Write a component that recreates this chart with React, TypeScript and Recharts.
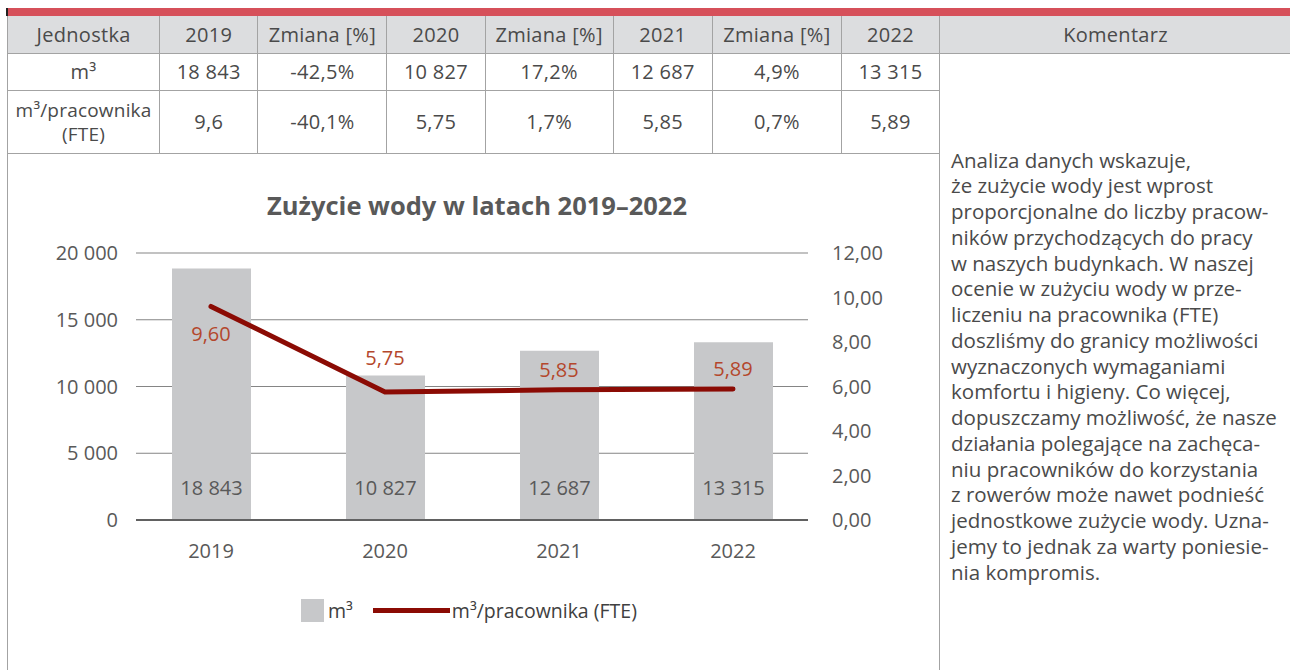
import React from "react";
import {
  Bar,
  CartesianGrid,
  ComposedChart,
  LabelList,
  Line,
  XAxis,
  YAxis,
} from "recharts";

const years = ["2019", "2020", "2021", "2022"];
const waterM3 = [18843, 10827, 12687, 13315];
const waterPerFte = [9.6, 5.75, 5.85, 5.89];
const changeM3 = [-42.5, 17.2, 4.9];
const changePerFte = [-40.1, 1.7, 0.7];
const leftTicks = [0, 5000, 10000, 15000, 20000];
const rightTicks = [0, 2, 4, 6, 8, 10, 12];
const seriesNames = ["m³", "m³/pracownika (FTE)"];
const chartTitle = "Zużycie wody w latach 2019–2022";
const commentLines = [
  "Analiza danych wskazuje,",
  "że zużycie wody jest wprost",
  "proporcjonalne do liczby pracow-",
  "ników przychodzących do pracy",
  "w naszych budynkach. W naszej",
  "ocenie w zużyciu wody w prze-",
  "liczeniu na pracownika (FTE)",
  "doszliśmy do granicy możliwości",
  "wyznaczonych wymaganiami",
  "komfortu i higieny. Co więcej,",
  "dopuszczamy możliwość, że nasze",
  "działania polegające na zachęca-",
  "niu pracowników do korzystania",
  "z rowerów może nawet podnieść",
  "jednostkowe zużycie wody. Uzna-",
  "jemy to jednak za warty poniesie-",
  "nia kompromis.",
];

const chartData = years.map((year, i) => ({
  year,
  m3: waterM3[i],
  fte: waterPerFte[i],
}));

const FONT = "'Open Sans', sans-serif";
const GRAY_TEXT = "#595959";
const BAR_FILL = "#c7c8ca";
const LINE_COLOR = "#8b0b04";
const LABEL_RED = "#b4472c";
const BORDER = "1px solid #a3a3a3";
const LABEL_DY = [27, -35, -20, -20];

const thousands = (n: number) => String(n).replace(/\B(?=(\d{3})+(?!\d))/g, " ");
const comma = (n: number, digits?: number) =>
  (digits === undefined ? String(n) : n.toFixed(digits)).replace(".", ",");
const pct = (n: number) => comma(n) + "%";

const colWidths = [152, 98, 129, 98, 128, 99, 129, 98, 351];

const cell: React.CSSProperties = {
  border: BORDER,
  textAlign: "center",
  padding: 0,
  color: "#4a4a4a",
};

function FteLabel(props: any) {
  const { x, y, value, index } = props;
  return (
    <text
      x={x}
      y={y + LABEL_DY[index]}
      textAnchor="middle"
      dominantBaseline="central"
      fill={LABEL_RED}
      fontSize={20}
    >
      {comma(Number(value), 2)}
    </text>
  );
}

function WaterChart() {
  return (
    <div style={{ position: "absolute", left: 8, top: 153, width: 932, height: 517, fontFamily: FONT }}>
      <div
        style={{
          position: "absolute",
          left: 0,
          width: 938,
          top: 35,
          lineHeight: "34px",
          textAlign: "center",
          fontWeight: 700,
          fontSize: 25.5,
          color: GRAY_TEXT,
        }}
      >
        {chartTitle}
      </div>
      <ComposedChart
        width={932}
        height={517}
        data={chartData}
        margin={{ top: 100, right: 52, bottom: 110, left: 18 }}
      >
        <CartesianGrid yAxisId="left" vertical={false} stroke="#858585" />
        <XAxis
          dataKey="year"
          padding={{ left: -12, right: -12 }}
          axisLine={{ stroke: "#404040", strokeWidth: 1.5 }}
          tickLine={false}
          tickMargin={18}
          height={40}
          tick={{ fill: GRAY_TEXT, fontSize: 20 }}
        />
        <YAxis
          yAxisId="left"
          domain={[0, 20000]}
          ticks={leftTicks}
          tickFormatter={thousands}
          axisLine={false}
          tickLine={false}
          tickMargin={12}
          width={110}
          tick={{ fill: GRAY_TEXT, fontSize: 20 }}
        />
        <YAxis
          yAxisId="right"
          orientation="right"
          domain={[0, 12]}
          ticks={rightTicks}
          tickFormatter={(v) => comma(v, 2)}
          axisLine={false}
          tickLine={false}
          tickMargin={18}
          width={80}
          tick={{ fill: GRAY_TEXT, fontSize: 20 }}
        />
        <Bar
          yAxisId="left"
          dataKey="m3"
          name={seriesNames[0]}
          fill={BAR_FILL}
          barSize={79}
          isAnimationActive={false}
        >
          <LabelList
            dataKey="m3"
            position="insideBottom"
            offset={25}
            formatter={(v: any) => thousands(Number(v))}
            fill={GRAY_TEXT}
            fontSize={20}
          />
        </Bar>
        <Line
          yAxisId="right"
          dataKey="fte"
          name={seriesNames[1]}
          stroke={LINE_COLOR}
          strokeWidth={5}
          strokeLinecap="round"
          dot={false}
          isAnimationActive={false}
        >
          <LabelList dataKey="fte" content={<FteLabel />} />
        </Line>
      </ComposedChart>
      <div
        style={{
          position: "absolute",
          left: 293,
          top: 444,
          display: "flex",
          alignItems: "center",
          fontSize: 19.5,
          color: "#404040",
        }}
      >
        <span style={{ width: 23, height: 23, background: BAR_FILL, display: "inline-block" }} />
        <span style={{ marginLeft: 4 }}>{seriesNames[0]}</span>
        <span
          style={{ width: 77, height: 5, background: LINE_COLOR, display: "inline-block", marginLeft: 20 }}
        />
        <span style={{ marginLeft: 2 }}>{seriesNames[1]}</span>
      </div>
    </div>
  );
}

export default function App() {
  return (
    <div
      style={{
        position: "relative",
        width: 1290,
        height: 670,
        overflow: "hidden",
        background: "#fff",
        fontFamily: FONT,
      }}
    >
      <style>{"body{margin:0;overflow:hidden}"}</style>
      <div style={{ position: "absolute", left: 8, top: 8, width: 1282, height: 8, background: "#d6505a" }} />
      <div style={{ position: "absolute", left: 6, top: 8, width: 2, height: 8, background: "#222" }} />
      <table
        style={{
          position: "absolute",
          left: 7,
          top: 16,
          borderCollapse: "collapse",
          tableLayout: "fixed",
          width: 1284,
          fontSize: 20,
          letterSpacing: 0.3,
        }}
      >
        <colgroup>
          {colWidths.map((w, i) => (
            <col key={i} style={{ width: w }} />
          ))}
        </colgroup>
        <tbody>
          <tr style={{ height: 37, background: "#dcdddf" }}>
            <td style={{ ...cell, borderTop: "none" }}>Jednostka</td>
            {years.map((y, i) => (
              <React.Fragment key={y}>
                <td style={{ ...cell, borderTop: "none" }}>{y}</td>
                {i < years.length - 1 && <td style={{ ...cell, borderTop: "none" }}>Zmiana [%]</td>}
              </React.Fragment>
            ))}
            <td style={{ ...cell, borderTop: "none", borderRight: "none" }}>Komentarz</td>
          </tr>
          <tr style={{ height: 37 }}>
            <td style={cell}>m³</td>
            {waterM3.map((v, i) => (
              <React.Fragment key={i}>
                <td style={cell}>{thousands(v)}</td>
                {i < changeM3.length && <td style={cell}>{pct(changeM3[i])}</td>}
              </React.Fragment>
            ))}
            <td
              rowSpan={3}
              style={{
                ...cell,
                borderRight: "none",
                borderBottom: "none",
                textAlign: "left",
                verticalAlign: "top",
                paddingLeft: 11,
                paddingTop: 94,
                fontSize: 20.5,
                letterSpacing: 0,
                lineHeight: "25.75px",
                whiteSpace: "nowrap",
              }}
            >
              {commentLines.map((l, i) => (
                <div key={i}>{l}</div>
              ))}
            </td>
          </tr>
          <tr style={{ height: 63 }}>
            <td style={{ ...cell, fontSize: 19, lineHeight: "24px", letterSpacing: 0.2 }}>
              m³/pracownika
              <br />
              (FTE)
            </td>
            {waterPerFte.map((v, i) => (
              <React.Fragment key={i}>
                <td style={cell}>{comma(v)}</td>
                {i < changePerFte.length && <td style={cell}>{pct(changePerFte[i])}</td>}
              </React.Fragment>
            ))}
          </tr>
          <tr style={{ height: 530 }}>
            <td colSpan={8} style={{ ...cell, borderBottom: "none" }} />
          </tr>
        </tbody>
      </table>
      <WaterChart />
    </div>
  );
}
